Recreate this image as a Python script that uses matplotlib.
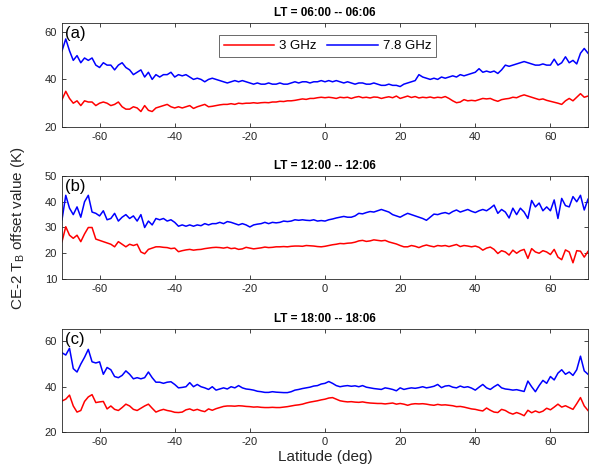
import numpy as np
import matplotlib
matplotlib.use("Agg")
import matplotlib.pyplot as plt

plt.rcParams['font.family'] = ['Liberation Sans', 'DejaVu Sans']
plt.rcParams['axes.unicode_minus'] = False

lat = np.arange(-70, 71)

# panel (a) LT 06:00 -- 06:06
a_78 = [52, 57, 52, 48, 50, 47, 49, 48, 49, 46, 45, 47, 46, 46, 44, 46, 47, 45, 44, 42,
        43, 44, 41, 43, 40, 42, 41, 42, 42, 43, 41, 42, 41.5, 42, 41, 40, 40.5, 40, 39, 40,
        40.5, 40, 39.5, 39, 38.5, 39, 39.5, 39, 39.5, 39, 38.5, 38, 38.5, 38, 38, 38.5, 38, 38, 38.5, 38,
        38, 38.5, 39, 38.5, 39, 39, 38.5, 39, 39, 39.5, 39] + \
       [39.5, 39, 39.5, 39, 38.5, 39, 38.5, 38, 38.5, 38.5, 38, 38, 38.5, 38, 37.5, 37.5, 38, 37.5, 37.5, 37,
        38, 38.5, 39, 39.5, 42, 41, 40.5, 40, 40.5, 40, 41, 40.5, 41, 41.5, 41, 42, 41.5, 42, 42.5, 43,
        44.5, 43, 43.5, 43, 43.5, 42.5, 44, 46, 45.5, 46, 46.5, 47, 47.5, 47, 46.5, 46, 46, 46.5, 46, 46,
        48.5, 46, 47, 49.5, 47, 48, 46.5, 51, 53, 51]
a_3 = [31.5, 35, 32, 30, 31, 29, 31, 30.5, 30.5, 29, 30, 30.5, 30, 29, 29.5, 30.5, 28.5, 27.5, 27.5, 28.5,
       28, 26.5, 29, 27, 26.5, 28, 28.5, 29, 29.5, 28.5, 28, 28.5, 28, 28.5, 29, 27.8, 28.5, 29, 29.5, 28.5,
       28.7, 29, 29.3, 29.5, 29.5, 29.8, 29.5, 30, 29.8, 30, 30, 30.2, 30, 30.2, 30.3, 30.2, 30.5, 30.5, 30.8, 30.7,
       31, 31, 31.2, 31.5, 31.8, 31.6, 32, 32, 32.3, 32.5, 32.3] + \
      [32.5, 32.3, 32, 32.5, 32.3, 32.5, 32, 32.5, 32.8, 32.3, 32.5, 32.2, 32.6, 32.5, 32, 32.4, 32.7, 32.3, 33, 32,
       32.5, 33, 32.4, 32.8, 32.2, 32.5, 32.3, 32.6, 32.2, 32.5, 32.3, 32.8, 32, 31, 30.2, 30.5, 31.5, 31, 31.2, 31,
       31.5, 32, 31.8, 32, 31.3, 30.8, 31.5, 31.8, 32, 32.5, 32.3, 33, 33.5, 33, 32.5, 32, 31.5, 31.8, 31.2, 30.8,
       30.4, 30, 29.5, 31, 32, 31, 32.5, 34, 32.5, 33]

# panel (b) LT 12:00 -- 12:06
b_78 = [33, 42.5, 37.5, 35, 38, 34, 40, 42.5, 36, 35.5, 34.5, 36.5, 33, 33.5, 35.5, 32.5, 34, 35, 33.5, 34.5,
        32.5, 35, 30, 32.5, 31, 33.5, 33, 33.5, 32.5, 33, 32, 30.5, 31, 30.5, 31, 30.5, 31, 30.7, 31.5, 31,
        31.5, 31.5, 32, 31.5, 32.3, 32, 31.5, 31, 31.5, 31, 30.2, 31, 31.3, 31.5, 32, 31.5, 32, 31.8, 32, 32.5,
        32.3, 32.5, 33, 32.8, 33, 32.8, 32.7, 33, 32.5, 32.7, 32.5] + \
       [33, 33.3, 33.7, 34, 34.3, 34, 34, 34.5, 35.5, 35.3, 35.8, 36.2, 36, 36.5, 37, 36.5, 36, 35, 34.5, 34,
        34.8, 35.5, 35, 34.5, 34, 33.5, 32.8, 34, 35.2, 35, 35.5, 35.8, 35.3, 36.2, 36.8, 36, 36.5, 37, 36.3, 35.8,
        36.5, 37, 36.5, 37.5, 38.7, 35.5, 37, 36, 33.7, 37.5, 35, 37.5, 36, 33.5, 40.5, 38, 39.5, 36.5, 38, 36.5,
        40.7, 33.5, 41.3, 38.5, 38, 42, 40, 42.5, 36.8, 41]
b_3 = [24.5, 30.3, 27, 25.8, 27, 24.5, 27.5, 30, 30, 25.5, 25, 24.5, 24, 23.5, 22.5, 24.5, 23.5, 22.5, 23.5, 23,
       23.5, 20.5, 19.8, 21.5, 22, 22.5, 22.5, 22.3, 22.2, 21.8, 22, 20.6, 21, 21.3, 21.5, 21.2, 21.4, 21.5, 21.8, 22,
       22.2, 22.3, 22.2, 22, 22.3, 21.8, 22, 21.5, 21.7, 22.3, 22, 21.7, 21.9, 22.1, 22.4, 22.2, 22.3, 22.5, 22.5, 22.6,
       22.5, 22.7, 22.8, 22.8, 22.7, 23, 22.9, 22.8, 22.6, 22.5, 22.7] + \
      [23, 23.3, 23.5, 23.8, 23.7, 23.9, 24, 24.3, 24.8, 25, 24.6, 24.8, 25.2, 25, 24.8, 25, 24.4, 24, 23.6, 23,
       22.5, 22.5, 23, 22.7, 22.2, 22.8, 23.2, 22.8, 22.5, 23, 22.8, 23, 22.6, 23, 23.4, 22.6, 23, 22.8, 22.5, 22.8,
       22.3, 21.2, 22, 22.4, 21.5, 19.9, 21, 20.5, 19.3, 21.2, 20, 21, 21.5, 18, 21.8, 20.5, 20, 21, 20.5, 19.5,
       21.5, 18.5, 17.5, 21.3, 20.5, 16.3, 21, 20.8, 18.5, 20.7]

# panel (c) LT 18:00 -- 18:06
c_78 = [55, 54, 57, 48, 46.5, 50, 53, 56.5, 51, 50.5, 51, 45.5, 48.5, 47.5, 44.5, 44, 45, 47, 45.5, 43.5,
        44, 43.5, 44, 46.5, 44, 42, 42, 41.5, 42, 42.2, 41, 39.5, 39.7, 40, 41.8, 40, 41, 40, 39.5, 38.8,
        40, 38.5, 39, 39.5, 39, 40, 39.5, 40.5, 39.5, 39, 38.8, 38.5, 38, 37.8, 37.5, 37.5, 37.8, 37.6, 37.5, 37.4,
        37.4, 37.8, 38.5, 38.8, 39.2, 39.5, 39.8, 40.3, 40.5, 41.2, 41.5] + \
       [42.3, 41.5, 40.5, 40, 40.3, 40.5, 40.2, 40.4, 40, 40.5, 39.8, 39.5, 39.2, 39, 38.8, 39.5, 39.2, 38.8, 38.2, 39.5,
        38.8, 39.2, 39.5, 39.3, 39.6, 40, 39.5, 39.8, 40.2, 41, 39.6, 40.3, 40.5, 39.8, 39.5, 40.3, 39.7, 40, 39.4, 38.5,
        39.8, 41, 39.5, 38.8, 40, 41, 39.5, 39, 38.8, 38.5, 38.7, 38.3, 37.9, 42.5, 40, 37.8, 40.5, 42.8, 41.5, 44.5,
        43, 46, 47.5, 45.5, 46.5, 45, 47.5, 53.5, 47, 45.5]
c_3 = [33.7, 34.5, 36.3, 31.5, 28.8, 29.5, 33.5, 35.5, 36.5, 33, 33.3, 33.5, 30.2, 31.5, 30, 29.5, 30.8, 32.3, 31.5, 30,
       29.5, 30.5, 31.5, 32.3, 30.5, 28.8, 29.5, 30, 29.5, 29.2, 28.7, 28.6, 28.8, 29.8, 30.2, 29.5, 30, 29.4, 29, 30.2,
       29.6, 30.3, 30.8, 31.3, 31.5, 31.5, 31.4, 31.6, 31.5, 31.3, 31.2, 31, 31.1, 30.9, 30.8, 30.8, 30.9, 30.8, 30.8, 31,
       31.2, 31.5, 31.8, 32, 32.3, 32.8, 33.2, 33.5, 33.8, 34.2, 34.5] + \
      [35, 35.2, 34.5, 33.8, 33.5, 33.3, 33.4, 33.2, 33.1, 33.3, 33, 32.8, 32.7, 32.6, 32.6, 32.4, 32.6, 32.8, 32.3, 32.6,
       32.3, 31.8, 32.3, 32.5, 32.4, 32.5, 32.3, 32, 31.8, 32.2, 31.9, 32, 31.8, 31.6, 31.2, 31.3, 31, 30.6, 30.2, 30,
       29.6, 29.3, 30.6, 29.6, 28.8, 28.6, 30, 29.5, 28.5, 27.9, 28.6, 28, 27.2, 29.6, 28.5, 29.3, 28.6, 29.2, 30.5, 29.8,
       31, 32.3, 31, 31.6, 30.8, 30, 32.5, 35.2, 31.5, 29.5]

titles = ["LT = 06:00 -- 06:06", "LT = 12:00 -- 12:06", "LT = 18:00 -- 18:06"]
tags = ["(a)", "(b)", "(c)"]
ylims = [(20, 63.7), (10, 50), (20, 65.5)]
yticks = [[20, 40, 60], [10, 20, 30, 40, 50], [20, 40, 60]]
xticks = [-60, -40, -20, 0, 20, 40, 60]

panels = [(a_3, a_78), (b_3, b_78), (c_3, c_78)]

fig = plt.figure(figsize=(5.9, 4.75), dpi=100)
W, H = 590, 475
boxes = [(23, 127), (176, 279), (329, 432)]
axc = '#262626'

for i, (top, bot) in enumerate(boxes):
    ax = fig.add_axes([62 / W, 1 - bot / H, 526 / W, (bot - top) / H])
    s3, s78 = panels[i]
    assert len(s3) == len(lat) and len(s78) == len(lat)
    ax.plot(lat, s3, color='#ff0000', lw=1.1, label='3 GHz')
    ax.plot(lat, s78, color='#0000ff', lw=1.1, label='7.8 GHz')
    ax.set_xlim(-70, 70)
    ax.set_ylim(*ylims[i])
    ax.set_xticks(xticks)
    ax.set_yticks(yticks[i])
    ax.tick_params(direction='in', top=True, right=True, length=3, width=0.6,
                   labelsize=8, colors=axc, pad=3.5)
    for sp in ax.spines.values():
        sp.set_color(axc)
        sp.set_linewidth(0.6)
    ax.set_title(titles[i], fontsize=8.5, fontweight='bold', pad=5)
    ax.text(0.005, 0.975, tags[i], transform=ax.transAxes, fontsize=12,
            ha='left', va='top')
    if i == 0:
        leg = ax.legend(loc='upper center', bbox_to_anchor=(0.505, 0.945), ncol=2,
                        fontsize=9.5, frameon=True, fancybox=False, handlelength=3.8,
                        handletextpad=0.4, columnspacing=0.8, borderpad=0.35)
        leg.get_frame().set_edgecolor(axc)
        leg.get_frame().set_linewidth(0.6)
    if i == 2:
        ax.set_xlabel('Latitude (deg)', fontsize=11, color=axc, labelpad=2)

fig.text(0.03, 1 - 228 / H, 'CE-2 T$_\\mathregular{B}$ offset value (K)', rotation=90,
         ha='center', va='center', fontsize=11, color=axc)

fig.savefig('out.png', dpi=100)
